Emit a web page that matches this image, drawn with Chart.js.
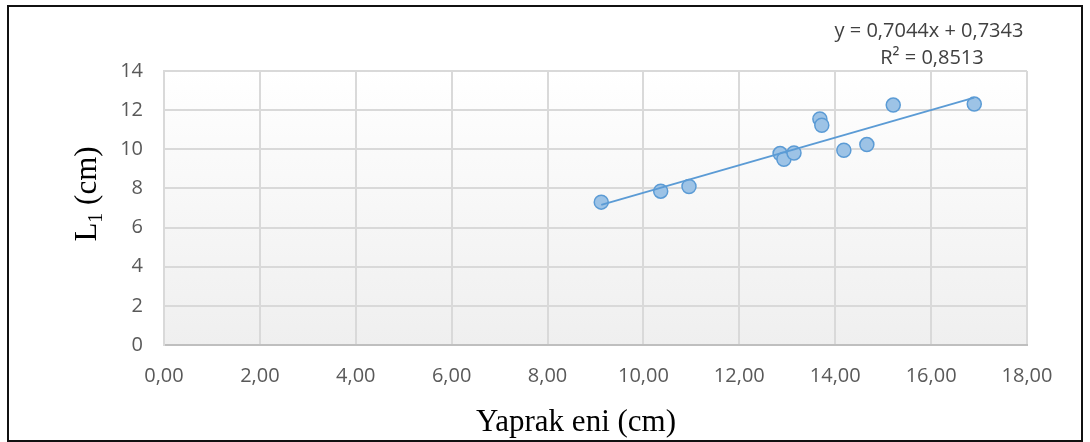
<!DOCTYPE html>
<html>
<head>
<meta charset="utf-8">
<script src="https://cdn.jsdelivr.net/npm/chart.js@4/dist/chart.umd.min.js"></script>
<style>
  html, body { margin: 0; padding: 0; background: #ffffff; }
  #wrap { position: relative; width: 1090px; height: 442px; }
  #frame { position: absolute; left: 7px; top: 5px; width: 1076px; height: 437px;
           box-sizing: border-box; border: 2px solid #111; pointer-events: none; }
  canvas { position: absolute; left: 0; top: 0; }
</style>
</head>
<body>
<div id="wrap">
  <canvas id="chart" width="1090" height="442"></canvas>
  <div id="frame"></div>
</div>
<script>
// Leaf width (cm) against L1 length (cm)
const leafWidth = [9.12, 10.36, 10.95, 12.85, 12.93, 13.14, 13.68, 13.72, 14.18, 14.66, 15.21, 16.90];
const leafL1    = [7.30, 7.86, 8.10, 9.78, 9.49, 9.81, 11.55, 11.23, 9.95, 10.24, 12.26, 12.31];

// Linear trend line
const trendSlope = 0.7044;
const trendIntercept = 0.7343;
const rSquared = 0.8513;

// Axis ranges
const xTicks = { min: 0, max: 18, step: 2 };
const yTicks = { min: 0, max: 14, step: 2 };

const fmt = (v, d) => v.toFixed(d).replace('.', ',');

const points = leafWidth.map((x, i) => ({ x, y: leafL1[i] }));
const xMin = Math.min(...leafWidth);
const xMax = Math.max(...leafWidth);
const trendPoints = [xMin, xMax].map(x => ({ x, y: trendSlope * x + trendIntercept }));

const tickFont = { family: '"Open Sans", sans-serif', size: 20 };

// Soft vertical gradient behind the plot area
const plotBackground = {
  id: 'plotBackground',
  beforeDraw(chart) {
    const { ctx, chartArea: a } = chart;
    const g = ctx.createLinearGradient(0, a.top, 0, a.bottom);
    g.addColorStop(0, '#ffffff');
    g.addColorStop(1, '#efefef');
    ctx.save();
    ctx.fillStyle = g;
    ctx.fillRect(a.left, a.top, a.right - a.left, a.bottom - a.top);
    ctx.restore();
  }
};

// Axis titles and the trend equation
const annotations = {
  id: 'annotations',
  afterDraw(chart) {
    const { ctx } = chart;
    ctx.save();
    ctx.fillStyle = '#000000';
    ctx.textBaseline = 'alphabetic';

    // x-axis title
    ctx.font = '31px "Liberation Serif", serif';
    ctx.textAlign = 'center';
    ctx.fillText('Yaprak eni (cm)', 576, 431);

    // y-axis title with subscript
    const big = '31px "Liberation Serif", serif';
    const small = '20px "Liberation Serif", serif';
    ctx.font = big;
    const wL = ctx.measureText('L').width;
    const wRest = ctx.measureText(' (cm)').width;
    ctx.font = small;
    const w1 = ctx.measureText('1').width;
    const total = wL + w1 + wRest;
    ctx.translate(96, 194);
    ctx.rotate(-Math.PI / 2);
    ctx.textAlign = 'left';
    let x = -total / 2;
    ctx.font = big;
    ctx.fillText('L', x, 0);
    x += wL;
    ctx.font = small;
    ctx.fillText('1', x, 6);
    x += w1;
    ctx.font = big;
    ctx.fillText(' (cm)', x, 0);
    ctx.setTransform(1, 0, 0, 1, 0, 0);

    // trend equation
    ctx.fillStyle = '#404040';
    ctx.font = '20px "Open Sans", sans-serif';
    ctx.textAlign = 'center';
    ctx.fillText('y = ' + fmt(trendSlope, 4) + 'x + ' + fmt(trendIntercept, 4), 929, 37);
    ctx.fillText('R² = ' + fmt(rSquared, 4), 932, 64);
    ctx.restore();
  }
};

new Chart(document.getElementById('chart'), {
  type: 'scatter',
  data: {
    datasets: [
      {
        type: 'line',
        data: trendPoints,
        borderColor: '#5b9bd5',
        borderWidth: 2,
        pointRadius: 0,
        fill: false,
        order: 0
      },
      {
        data: points,
        backgroundColor: '#9dc3e6',
        borderColor: '#5b9bd5',
        borderWidth: 1.5,
        pointRadius: 7,
        order: 1
      }
    ]
  },
  options: {
    responsive: false,
    animation: false,
    events: [],
    layout: { padding: { top: 71, right: 63, left: 0, bottom: 0 } },
    plugins: { legend: { display: false }, tooltip: { enabled: false } },
    scales: {
      x: {
        type: 'linear',
        min: xTicks.min, max: xTicks.max,
        ticks: { stepSize: xTicks.step, color: '#595959', font: tickFont, padding: 19,
                 callback: v => fmt(v, 2) },
        grid: { color: '#d9d9d9', lineWidth: 2, drawTicks: false },
        border: { color: '#bfbfbf', width: 2 },
        afterFit(s) { s.height = 97; }
      },
      y: {
        min: yTicks.min, max: yTicks.max,
        ticks: { stepSize: yTicks.step, color: '#595959', font: tickFont, padding: 21,
                 callback: v => String(v) },
        grid: { color: '#d9d9d9', lineWidth: 2, drawTicks: false },
        border: { color: '#d9d9d9', width: 2 },
        afterFit(s) { s.width = 164; }
      }
    }
  },
  plugins: [plotBackground, annotations]
});
</script>
</body>
</html>
